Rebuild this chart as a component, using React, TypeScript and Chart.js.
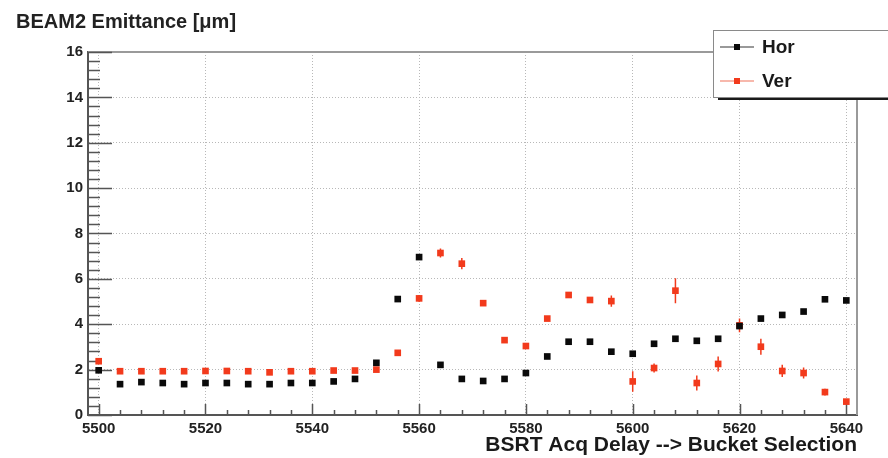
import React, { useEffect, useRef } from 'react';
import { Chart, registerables } from 'chart.js';

Chart.register(...registerables);

// ---- data ----
const delays = [
  5500, 5504, 5508, 5512, 5516, 5520, 5524, 5528, 5532, 5536, 5540, 5544,
  5548, 5552, 5556, 5560, 5564, 5568, 5572, 5576, 5580, 5584, 5588, 5592,
  5596, 5600, 5604, 5608, 5612, 5616, 5620, 5624, 5628, 5632, 5636, 5640,
];
const horValues = [
  1.97, 1.36, 1.45, 1.41, 1.36, 1.41, 1.41, 1.36, 1.36, 1.41, 1.41, 1.48,
  1.59, 2.3, 5.11, 6.96, 2.21, 1.59, 1.5, 1.59, 1.85, 2.58, 3.23, 3.23,
  2.79, 2.7, 3.14, 3.36, 3.27, 3.36, 3.92, 4.25, 4.41, 4.56, 5.1, 5.05,
];
const horErrors = [
  0.08, 0.05, 0.05, 0.05, 0.05, 0.05, 0.05, 0.05, 0.05, 0.05, 0.05, 0.05,
  0.05, 0.08, 0.08, 0.1, 0.08, 0.05, 0.05, 0.05, 0.05, 0.06, 0.06, 0.06,
  0.06, 0.06, 0.06, 0.06, 0.06, 0.06, 0.08, 0.06, 0.06, 0.06, 0.08, 0.08,
];
const verValues = [
  2.37, 1.93, 1.93, 1.93, 1.93, 1.94, 1.94, 1.93, 1.88, 1.93, 1.93, 1.96,
  1.96, 2.0, 2.74, 5.14, 7.14, 6.67, 4.93, 3.3, 3.04, 4.25, 5.29, 5.07,
  5.02, 1.48, 2.07, 5.48, 1.41, 2.25, 3.95, 3.01, 1.94, 1.85, 1.01, 0.59,
];
const verErrors = [
  0.12, 0.05, 0.05, 0.05, 0.05, 0.05, 0.05, 0.05, 0.05, 0.05, 0.05, 0.05,
  0.05, 0.1, 0.1, 0.15, 0.2, 0.25, 0.1, 0.1, 0.1, 0.1, 0.1, 0.1,
  0.25, 0.45, 0.2, 0.55, 0.33, 0.33, 0.3, 0.35, 0.27, 0.24, 0.15, 0.1,
];
const xTickValues = [5500, 5520, 5540, 5560, 5580, 5600, 5620, 5640];
const xMinorStep = 4;
const yTickValues = [0, 2, 4, 6, 8, 10, 12, 14, 16];
const yMinorStep = 0.4;
const seriesLabels = ['Hor', 'Ver'];
const titleText = 'BEAM2 Emittance [\u03bcm]';
const xAxisTitle = 'BSRT Acq Delay --> Bucket Selection';

const FONT = '"Liberation Sans", Arial, Helvetica, sans-serif';
const BLACK = '#0a0a0a';
const RED = '#f23a1c';

const rootStylePlugin = {
  id: 'rootStyle',
  beforeDatasetsDraw(chart: any) {
    const { ctx, chartArea: a, scales } = chart;
    const xs = scales.x;
    const ys = scales.y;
    ctx.save();
    // frame top / right
    ctx.strokeStyle = '#9a9a9a';
    ctx.lineWidth = 2;
    ctx.beginPath();
    ctx.moveTo(a.left, a.top);
    ctx.lineTo(a.right, a.top);
    ctx.lineTo(a.right, a.bottom);
    ctx.stroke();
    // inside ticks
    ctx.strokeStyle = '#555';
    ctx.lineWidth = 1.5;
    ctx.beginPath();
    const y0 = yTickValues[0];
    const y1 = yTickValues[yTickValues.length - 1];
    for (let v = y0; v <= y1 + 1e-9; v += yMinorStep) {
      const isMajor = yTickValues.some((t) => Math.abs(t - v) < 1e-6);
      const py = Math.round(ys.getPixelForValue(v)) + 0.5;
      ctx.moveTo(a.left, py);
      ctx.lineTo(a.left + (isMajor ? 24 : 12), py);
    }
    const x0 = xTickValues[0];
    const x1 = xTickValues[xTickValues.length - 1];
    for (let v = x0; v <= x1 + 1e-9; v += xMinorStep) {
      const isMajor = xTickValues.some((t) => Math.abs(t - v) < 1e-6);
      const px = Math.round(xs.getPixelForValue(v)) + 0.5;
      ctx.moveTo(px, a.bottom);
      ctx.lineTo(px, a.bottom - (isMajor ? 11 : 5));
    }
    ctx.stroke();
    // error bars
    chart.data.datasets.forEach((ds: any, di: number) => {
      const errs = di === 0 ? horErrors : verErrors;
      const vals = di === 0 ? horValues : verValues;
      ctx.strokeStyle = ds.backgroundColor;
      ctx.lineWidth = 1.5;
      ctx.beginPath();
      delays.forEach((d, i) => {
        const px = xs.getPixelForValue(d);
        ctx.moveTo(px, ys.getPixelForValue(vals[i] - errs[i]));
        ctx.lineTo(px, ys.getPixelForValue(vals[i] + errs[i]));
      });
      ctx.stroke();
    });
    ctx.restore();
  },
  afterDraw(chart: any) {
    const { ctx } = chart;
    ctx.save();
    // title
    ctx.fillStyle = '#222';
    ctx.font = `bold 20px ${FONT}`;
    ctx.textAlign = 'left';
    ctx.textBaseline = 'middle';
    ctx.fillText(titleText, 16, 22);
    // legend box with shadow
    const bx = 713;
    const by = 30;
    const bw = 200;
    const bh = 67;
    ctx.fillStyle = '#1a1a1a';
    ctx.fillRect(bx + 5, by + bh, bw, 3);
    ctx.fillStyle = '#ffffff';
    ctx.fillRect(bx, by, bw, bh);
    ctx.strokeStyle = '#8a8a8a';
    ctx.lineWidth = 1;
    ctx.strokeRect(bx + 0.5, by + 0.5, bw, bh);
    const rows = [47, 81];
    chart.data.datasets.forEach((ds: any, i: number) => {
      const cy = rows[i];
      ctx.strokeStyle = i === 0 ? '#777' : '#f5a090';
      ctx.lineWidth = 1.5;
      ctx.beginPath();
      ctx.moveTo(720, cy);
      ctx.lineTo(754, cy);
      ctx.stroke();
      ctx.fillStyle = ds.backgroundColor;
      ctx.fillRect(737 - 3, cy - 3, 6, 6);
      ctx.fillStyle = '#1a1a1a';
      ctx.font = `bold 19px ${FONT}`;
      ctx.textAlign = 'left';
      ctx.textBaseline = 'middle';
      ctx.fillText(ds.label, 762, cy + 1);
    });
    ctx.restore();
  },
};

export default function App() {
  const canvasRef = useRef<HTMLCanvasElement | null>(null);

  useEffect(() => {
    const canvas = canvasRef.current;
    if (!canvas) return;
    const chart = new Chart(canvas, {
      type: 'scatter',
      data: {
        datasets: [
          {
            label: seriesLabels[0],
            data: delays.map((d, i) => ({ x: d, y: horValues[i] })),
            backgroundColor: BLACK,
            borderColor: BLACK,
            pointStyle: 'rect',
            pointRadius: 4.7,
            pointBorderWidth: 0,
            showLine: false,
          },
          {
            label: seriesLabels[1],
            data: delays.map((d, i) => ({ x: d, y: verValues[i] })),
            backgroundColor: RED,
            borderColor: RED,
            pointStyle: 'rect',
            pointRadius: 4.7,
            pointBorderWidth: 0,
            showLine: false,
          },
        ],
      },
      options: {
        responsive: false,
        devicePixelRatio: 1,
        animation: false,
        layout: { padding: { left: 0, top: 52, right: 31, bottom: 0 } },
        plugins: {
          legend: { display: false },
          title: { display: false },
          tooltip: { enabled: false },
        },
        scales: {
          x: {
            type: 'linear',
            min: 5498,
            max: 5642,
            afterBuildTicks: (s: any) => {
              s.ticks = xTickValues.map((v) => ({ value: v }));
            },
            afterFit: (s: any) => {
              s.height = 43;
            },
            grid: { color: '#b8b8b8', lineWidth: 1, drawTicks: false },
            border: { display: true, color: '#555', width: 2, dash: [1, 2] },
            ticks: {
              color: '#222',
              font: { family: FONT, size: 15, weight: 'bold' },
              padding: 5,
              maxRotation: 0,
              autoSkip: false,
              callback: (v: any) => String(v),
            },
            title: {
              display: true,
              text: xAxisTitle,
              align: 'end',
              color: '#1a1a1a',
              font: { family: FONT, size: 21, weight: 'bold' },
              padding: { top: 0, bottom: 0 },
            },
          },
          y: {
            type: 'linear',
            min: 0,
            max: 16,
            afterBuildTicks: (s: any) => {
              s.ticks = yTickValues.map((v) => ({ value: v }));
            },
            afterFit: (s: any) => {
              s.width = 88;
            },
            grid: { color: '#b8b8b8', lineWidth: 1, drawTicks: false },
            border: { display: true, color: '#555', width: 2, dash: [1, 2] },
            ticks: {
              color: '#222',
              font: { family: FONT, size: 15, weight: 'bold' },
              padding: 5,
              callback: (v: any) => String(v),
            },
          },
        },
      },
      plugins: [rootStylePlugin],
    } as any);
    return () => chart.destroy();
  }, []);

  return (
    <div style={{ position: 'absolute', left: 0, top: 0, width: 888, height: 458, background: '#fff' }}>
      <canvas ref={canvasRef} width={888} height={458} style={{ display: 'block' }} />
    </div>
  );
}
